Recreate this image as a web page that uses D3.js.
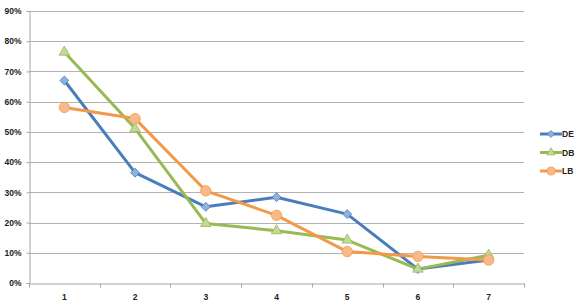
<!DOCTYPE html>
<html>
<head>
<meta charset="utf-8">
<script src="https://cdn.jsdelivr.net/npm/d3@7"></script>
<style>
  body { margin: 0; background: #fff; }
  text { font-family: "Liberation Sans", Arial, sans-serif; }
</style>
</head>
<body>
<div id="chart"></div>
<script>
var categories = [1, 2, 3, 4, 5, 6, 7];
var yTicks = [0, 0.1, 0.2, 0.3, 0.4, 0.5, 0.6, 0.7, 0.8, 0.9];
var seriesNames = ["DE", "DB", "LB"];
var deValues = [0.67, 0.365, 0.252, 0.284, 0.228, 0.046, 0.076];
var dbValues = [0.764, 0.511, 0.197, 0.173, 0.142, 0.046, 0.092];
var lbValues = [0.581, 0.544, 0.305, 0.224, 0.104, 0.088, 0.076];

var width = 584, height = 304;
var margin = {left: 29, right: 60, top: 11, bottom: 21};

var svg = d3.select("#chart").append("svg")
    .attr("width", width)
    .attr("height", height);

var x = d3.scaleBand()
    .domain(categories)
    .range([margin.left, width - margin.right]);

var y = d3.scaleLinear()
    .domain([0, 0.9])
    .range([height - margin.bottom, margin.top]);

// square rotated 45deg gives the wide excel-style diamond
var squareDiamond = {
  draw: function(context, size) {
    var r = Math.sqrt(size / 2);
    context.moveTo(0, -r);
    context.lineTo(r, 0);
    context.lineTo(0, r);
    context.lineTo(-r, 0);
    context.closePath();
  }
};

var series = [
  {name: "DE", values: deValues, color: "#4a7ebb", light: "#8fb2dc", shape: squareDiamond, size: 40},
  {name: "DB", values: dbValues, color: "#98b954", light: "#c3d99a", shape: d3.symbolTriangle, size: 48},
  {name: "LB", values: lbValues, color: "#f39a4a", light: "#f8b98a", shape: d3.symbolCircle, size: 85}
];

// gridlines
svg.append("g")
  .selectAll("line")
  .data(yTicks.slice(1))
  .enter().append("line")
    .attr("x1", margin.left)
    .attr("x2", width - margin.right)
    .attr("y1", function(d) { return Math.round(y(d)) + 0.5; })
    .attr("y2", function(d) { return Math.round(y(d)) + 0.5; })
    .attr("stroke", "#b3b3b3")
    .attr("stroke-width", 1);

// y axis
var yAxis = svg.append("g")
    .attr("transform", "translate(" + (margin.left + 0.5) + ",0)")
    .call(d3.axisLeft(y).tickValues(yTicks).tickFormat(d3.format(".0%")).tickSize(3).tickPadding(5));

// x axis
var xAxis = svg.append("g")
    .attr("transform", "translate(0," + (Math.round(y(0)) + 0.5) + ")")
    .call(d3.axisBottom(x).tickSize(0).tickPadding(10));

// boundary ticks on x axis
xAxis.selectAll(".bound")
  .data(categories.concat([null]))
  .enter().append("line")
    .attr("class", "bound")
    .attr("x1", function(d, i) { return Math.round(margin.left + i * x.bandwidth()) + 0.5; })
    .attr("x2", function(d, i) { return Math.round(margin.left + i * x.bandwidth()) + 0.5; })
    .attr("y1", 0)
    .attr("y2", 4)
    .attr("stroke", "#a6a6a6");

[yAxis, xAxis].forEach(function(ax) {
  ax.select(".domain").attr("stroke", "#a6a6a6");
  ax.selectAll(".tick line").attr("stroke", "#a6a6a6");
  ax.selectAll("text")
    .attr("fill", "#222")
    .style("font-size", "8.5px")
    .style("font-weight", "bold");
});

var line = d3.line()
    .x(function(d, i) { return x(categories[i]) + x.bandwidth() / 2; })
    .y(function(d) { return y(d); });

series.forEach(function(s) {
  svg.append("path")
    .datum(s.values)
    .attr("fill", "none")
    .attr("stroke", s.color)
    .attr("stroke-width", 3)
    .attr("stroke-linejoin", "round")
    .attr("d", line);
});

series.forEach(function(s) {
  svg.append("g")
    .selectAll("path")
    .data(s.values)
    .enter().append("path")
      .attr("transform", function(d, i) {
        return "translate(" + (x(categories[i]) + x.bandwidth() / 2) + "," + y(d) + ")";
      })
      .attr("d", d3.symbol().type(s.shape).size(s.size))
      .attr("fill", s.light)
      .attr("stroke", s.color)
      .attr("stroke-width", 0.8);
});

// legend
var legend = svg.append("g")
    .attr("transform", "translate(540,134)");

var item = legend.selectAll("g")
  .data(series)
  .enter().append("g")
    .attr("transform", function(d, i) { return "translate(0," + (i * 18.5) + ")"; });

item.append("line")
    .attr("x1", 0).attr("x2", 22)
    .attr("y1", 0).attr("y2", 0)
    .attr("stroke", function(d) { return d.color; })
    .attr("stroke-width", 3);

item.append("path")
    .attr("transform", "translate(11,0)")
    .attr("d", function(d) { return d3.symbol().type(d.shape).size(d.size * 0.6)(); })
    .attr("fill", function(d) { return d.light; })
    .attr("stroke", function(d) { return d.color; })
    .attr("stroke-width", 0.8);

item.append("text")
    .attr("x", 22)
    .attr("y", 3)
    .attr("fill", "#222")
    .style("font-size", "8.5px")
    .style("font-weight", "bold")
    .text(function(d) { return d.name; });
</script>
</body>
</html>
